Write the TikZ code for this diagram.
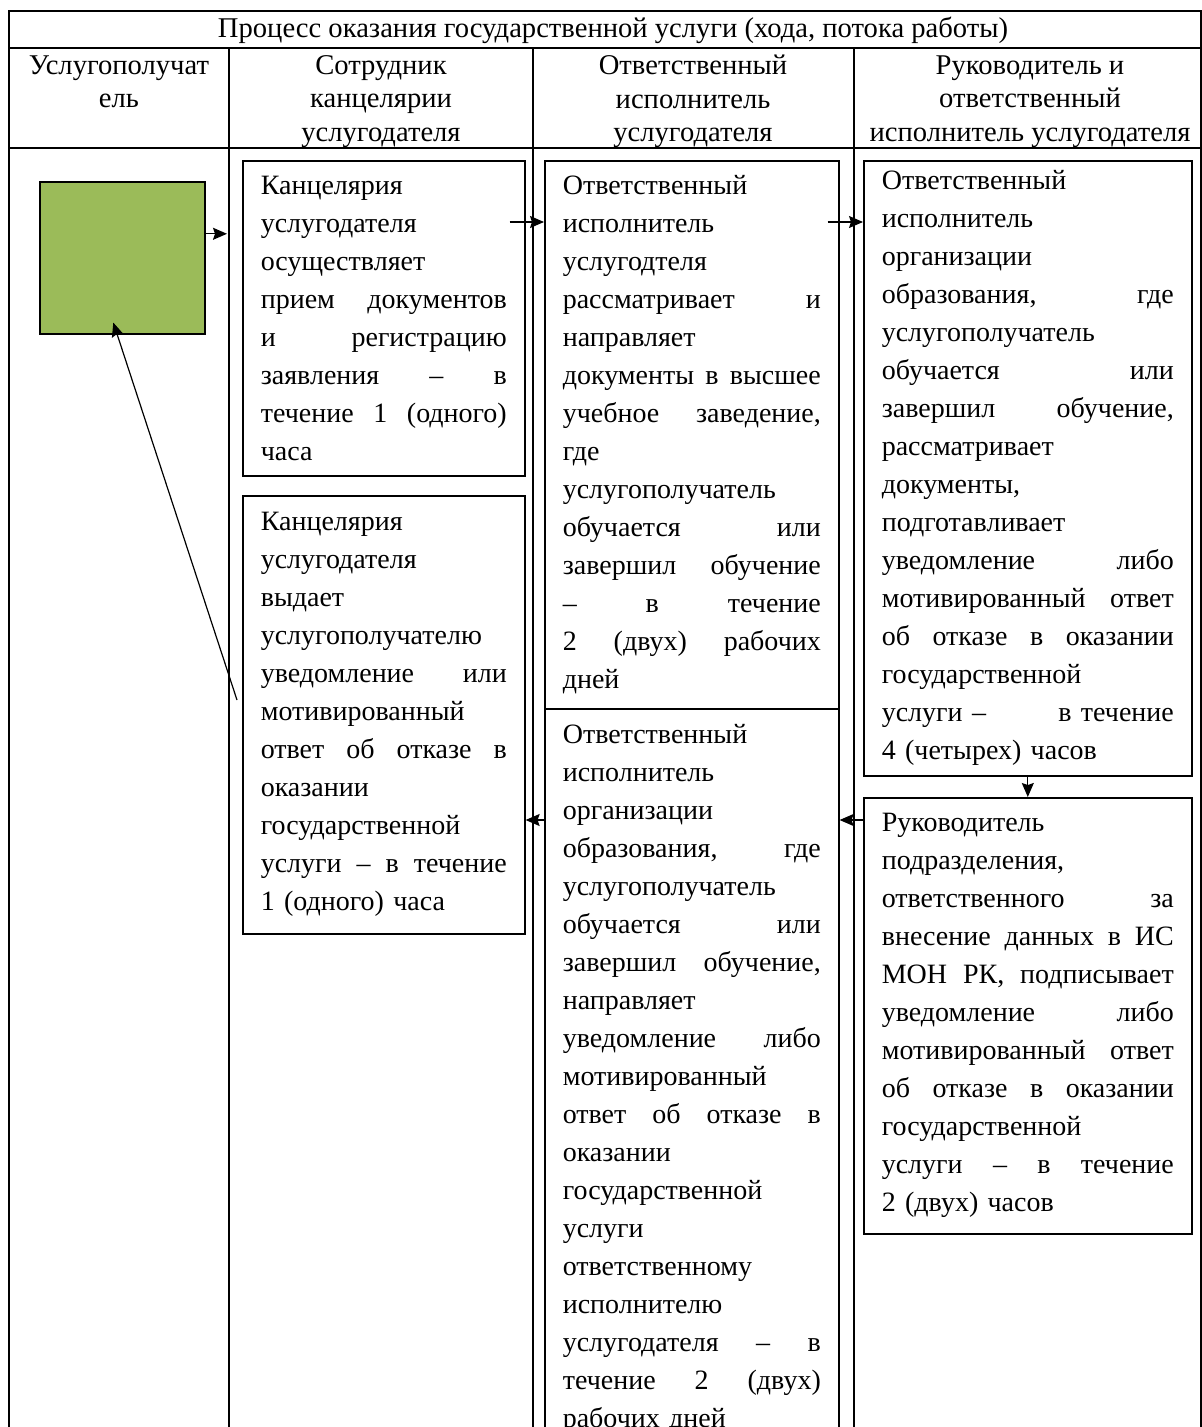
\documentclass[tikz,border=0pt]{standalone}
\usepackage{fontspec}
\setmainfont{Liberation Serif}
\usetikzlibrary{arrows.meta}
\definecolor{recvgreen}{HTML}{9BBB59}
\tikzstyle{proc} = [rectangle, draw=black, line width=0.8pt, anchor=north west, align=left, inner xsep=9pt, inner ysep=6pt, font=\fontsize{14}{19}\selectfont]
\tikzstyle{head} = [align=center, anchor=north, inner sep=0pt, font=\fontsize{14.3}{16.75}\selectfont]
\tikzstyle{grid} = [line width=0.8pt]
\tikzstyle{arrow} = [line width=0.6pt, ->, >={Stealth[length=7pt,width=6pt,inset=1pt]}]

\begin{document}
\begin{tikzpicture}[x=0.5pt, y=-0.5pt]
\useasboundingbox (0,0) rectangle (1202,1427);
% table
\draw[grid] (9,1427) -- (9,11) -- (1201,11) -- (1201,1427);
\draw[grid] (9,48) -- (1201,48) (9,148) -- (1201,148);
\foreach \x in {229,533,854} \draw[grid] (\x,48) -- (\x,1427);
\node(t)[font=\fontsize{14.3}{16.75}\selectfont] at (613,30) {Процесс оказания государственной услуги (хода, потока работы)};
\node(h1)[head] at (119,55) {Услугополучат\\ель};
\node(h2)[head] at (381,55) {Сотрудник\\канцелярии\\услугодателя};
\node(h3)[head] at (693,55) {Ответственный\\исполнитель\\услугодателя};
\node(h4)[head] at (1030,55) {Руководитель и\\ответственный\\исполнитель услугодателя};

% steps
\node(0)[draw, line width=0.8pt, fill=recvgreen, minimum width=82.5pt, minimum height=76pt, anchor=north west] at (39,181) {};
\node(1)[proc, text width=123pt, minimum height=157.5pt] at (242,160) {Канцелярия\\услугодателя\\осуществляет\\прием\hfill документов\\и\hfill регистрацию\\заявления\hfill –\hfill в\\течение\hfill 1\hfill (одного)\\часа};
\node(2)[proc, text width=129pt, minimum height=274pt] at (544,160) {Ответственный\\исполнитель\\услугодтеля\\рассматривает\hfill и\\направляет\\документы\hfill в\hfill высшее\\учебное\hfill заведение,\\где\\услугополучатель\\обучается\hfill или\\завершил\hfill обучение\\–\hfill в\hfill течение\\2\hfill (двух)\hfill рабочих\\дней};
\node(3)[proc, text width=146pt, minimum height=307.5pt, inner ysep=5pt] at (863,160) {Ответственный\\исполнитель\\организации\\образования,\hfill где\\услугополучатель\\обучается\hfill или\\завершил\hfill обучение,\\рассматривает\\документы,\\подготавливает\\уведомление\hfill либо\\мотивированный\hfill ответ\\об\hfill отказе\hfill в\hfill оказании\\государственной\\услуги –\hfill в течение\\4 (четырех) часов};
\node(4)[proc, text width=146pt, minimum height=218pt] at (863,797) {Руководитель\\подразделения,\\ответственного\hfill за\\внесение\hfill данных\hfill в\hfill ИС\\МОН\hfill РК,\hfill подписывает\\уведомление\hfill либо\\мотивированный\hfill ответ\\об\hfill отказе\hfill в\hfill оказании\\государственной\\услуги\hfill –\hfill в\hfill течение\\2 (двух) часов};
\node(5)[proc, text width=129pt, minimum height=370pt] at (544,708) {Ответственный\\исполнитель\\организации\\образования,\hfill где\\услугополучатель\\обучается\hfill или\\завершил\hfill обучение,\\направляет\\уведомление\hfill либо\\мотивированный\\ответ\hfill об\hfill отказе\hfill в\\оказании\\государственной\\услуги\\ответственному\\исполнителю\\услугодателя\hfill –\hfill в\\течение\hfill 2\hfill (двух)\\рабочих дней};
\node(6)[proc, text width=123pt, minimum height=219pt] at (242,495) {Канцелярия\\услугодателя\\выдает\\услугополучателю\\уведомление\hfill или\\мотивированный\\ответ\hfill об\hfill отказе\hfill в\\оказании\\государственной\\услуги\hfill –\hfill в\hfill течение\\1 (одного) часа};

% flow
\draw[arrow, shorten >=7.5pt] ([yshift=12pt]0.east) -- ([yshift=12pt]0.east -| 1.west);
\draw[arrow] ([xshift=-8pt,yshift=-31pt]1.north east) -- ([yshift=-31pt]2.north west);
\draw[arrow] ([xshift=-6pt,yshift=-31pt]2.north east) -- ([yshift=-31pt]3.north west);
\draw[arrow] (3.south) -- (4.north);
\draw[arrow] ([yshift=-11.5pt]4.north west) -- ([yshift=-11.5pt]4.north west -| 5.east);
\draw[arrow] ([yshift=-56pt]5.north west) -- ([yshift=-56pt]5.north west -| 6.east);
\draw[arrow] ([xshift=-2.5pt,yshift=-102.5pt]6.north west) -- ([xshift=-4.5pt,yshift=6pt]0.south);
\end{tikzpicture}
\end{document}
